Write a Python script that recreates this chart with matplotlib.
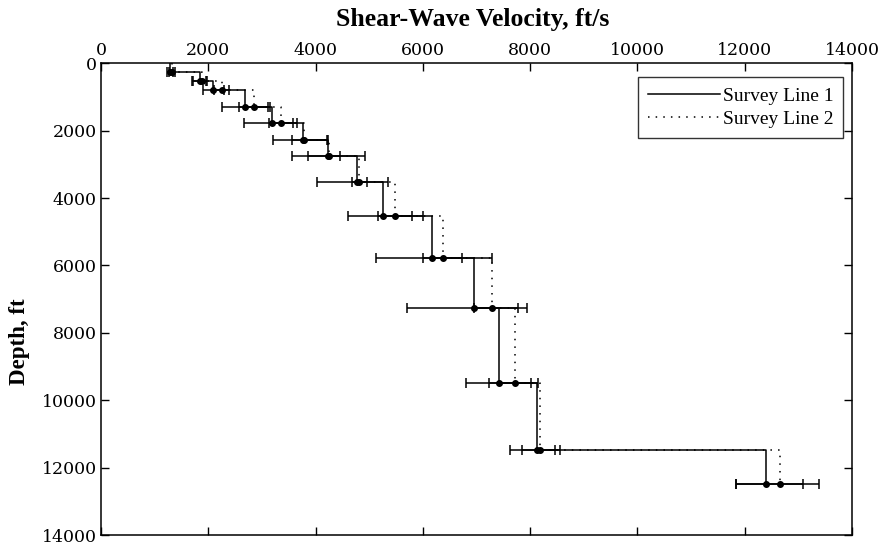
import numpy as np
import matplotlib
matplotlib.use("Agg")
import matplotlib.pyplot as plt

# depth at the bottom of each layer, ft
depth = np.array([273, 535, 790, 1288, 1781, 2265, 2745, 3514, 4528, 5770,
                  7273, 9490, 11478, 12497])

# survey line 1: velocity, ft/s and error bar limits
vs1 = np.array([1286, 1840, 2094, 2690, 3193, 3771, 4240, 4765, 5262, 6163,
                6952, 7424, 8121, 12389])
vs1_lo = np.array([1240, 1690, 1900, 2255, 2665, 3200, 3566, 4032, 4598, 5126,
                   5697, 6797, 7623, 11830])
vs1_hi = np.array([1350, 1970, 2290, 3119, 3647, 4237, 4921, 5344, 5996, 7293,
                   7935, 8015, 8561, 13079])

# survey line 2
vs2 = np.array([1330, 1876, 2250, 2858, 3355, 3790, 4255, 4809, 5480, 6369,
                7293, 7711, 8183, 12662])
vs2_lo = np.array([1270, 1720, 2110, 2566, 3125, 3566, 3864, 4672, 5170, 6003,
                   6952, 7238, 7853, 11830])
vs2_hi = np.array([1379, 1950, 2390, 3150, 3585, 4207, 4455, 4952, 5791, 6735,
                   7766, 8150, 8462, 13383])

plt.rcParams['font.family'] = ['Liberation Serif', 'DejaVu Serif']

fig = plt.figure(figsize=(8.81, 5.47), dpi=100)
ax = fig.add_axes([0.1146, 0.0219, 0.8525, 0.8624])


def step_path(v, d):
    xs = np.repeat(v, 2)
    ys = np.concatenate([[0], np.repeat(d, 2)[:-1]])
    return xs, ys


x1, y1 = step_path(vs1, depth)
x2, y2 = step_path(vs2, depth)
ax.plot(x1, y1, color='k', lw=1.1, label='Survey Line 1')
ax.plot(x2, y2, color='k', lw=1.1, linestyle=(0, (1, 4)), label='Survey Line 2')

ax.errorbar(vs1, depth, xerr=[vs1 - vs1_lo, vs1_hi - vs1], fmt='none',
            ecolor='k', elinewidth=1.1, capsize=3.3, capthick=1.1)
ax.errorbar(vs2, depth, xerr=[vs2 - vs2_lo, vs2_hi - vs2], fmt='none',
            ecolor='k', elinewidth=1.1, capsize=3.3, capthick=1.1)
ax.plot(vs1, depth, 'o', color='k', ms=4, zorder=5)
ax.plot(vs2, depth, 'o', color='k', ms=4, zorder=5)

ax.set_xlim(0, 14000)
ax.set_ylim(14000, 0)
ax.set_xticks(np.arange(0, 14001, 2000))
ax.set_yticks(np.arange(0, 14001, 2000))
ax.xaxis.tick_top()
ax.xaxis.set_label_position('top')
ax.tick_params(which='both', direction='in', length=6, width=1,
               top=True, bottom=True, left=True, right=True, pad=3,
               labelsize=12.5, labelfontfamily='DejaVu Serif')
for s in ax.spines.values():
    s.set_linewidth(1.1)

ax.set_xlabel('Shear-Wave Velocity, ft/s', fontsize=18.5, fontweight='bold')
ax.xaxis.set_label_coords(0.495, 1.079)
ax.set_ylabel('Depth, ft', fontsize=16.5, fontweight='bold')
ax.yaxis.set_label_coords(-0.094, 0.41)

leg = ax.legend(loc='upper right', bbox_to_anchor=(0.988, 0.97), borderaxespad=0,
                fontsize=14, frameon=True, fancybox=False, handlelength=3.7,
                handletextpad=0.15, borderpad=0.5, labelspacing=0.3)
leg.get_frame().set_edgecolor('k')
leg.get_frame().set_linewidth(1.0)

fig.savefig('out.png', dpi=100)
